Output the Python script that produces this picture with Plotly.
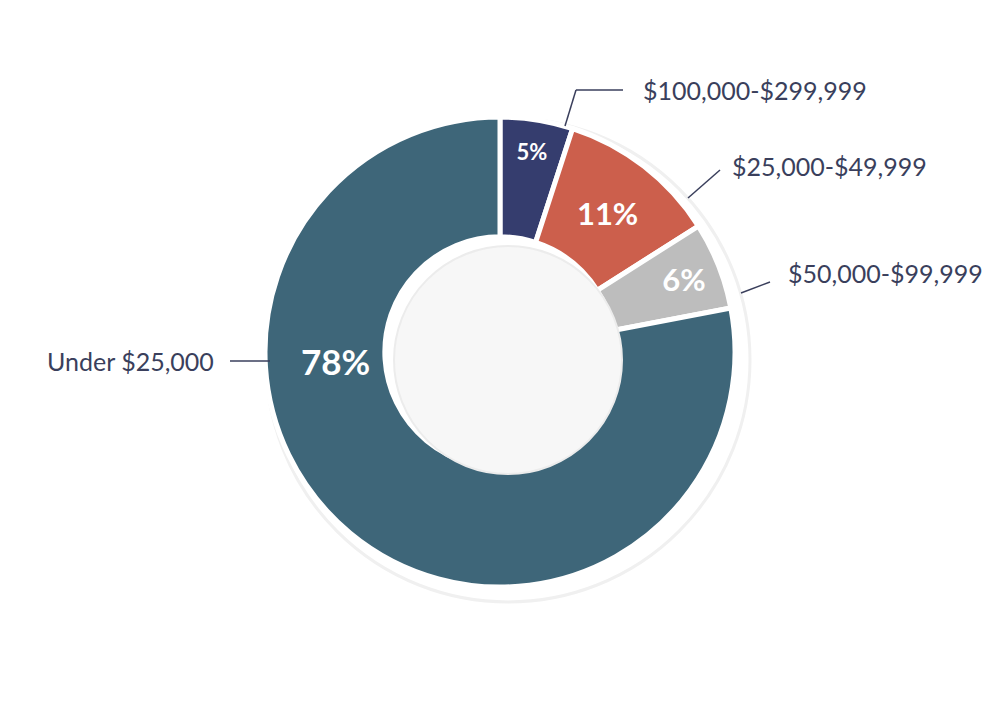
import plotly.graph_objects as go

categories = ["$100,000-$299,999", "$25,000-$49,999", "$50,000-$99,999", "Under $25,000"]
values = [5, 11, 6, 78]
colors = ["#353d6e", "#cc5f4c", "#bdbdbd", "#3e6679"]
text_sizes = [22, 31, 31, 35]

W, H = 1000, 706
def px(x): return x / W
def py(y): return 1 - y / H

texts = [f"{v}%" for v in values]
inside_texts = texts[:-1] + [""]

fig = go.Figure()
fig.add_trace(go.Pie(
    labels=categories, values=values, sort=False, direction="clockwise", rotation=0,
    hole=0.49, marker=dict(colors=colors, line=dict(color="white", width=5)),
    text=inside_texts, texttemplate="%{text}", textposition="inside", insidetextorientation="horizontal",
    textfont=dict(family="Lato", size=text_sizes, color="white", weight="bold"),
    domain=dict(x=[px(257), px(727)], y=[py(579), py(109)]),
    showlegend=False, hoverinfo="label+percent",
))

shapes = [
    dict(type="circle", xref="paper", yref="paper", x0=px(258), x1=px(742), y0=py(594), y1=py(110),
         line=dict(color="#f0f0f0", width=3), fillcolor="white", layer="below"),
    dict(type="circle", xref="paper", yref="paper", x0=px(386), x1=px(614), y0=py(466), y1=py(238),
         line=dict(color="#ececec", width=2), fillcolor="#f7f7f7", layer="above"),
]
lines = [
    [(557, 118), (568, 82), (615, 82)],
    [(680, 190), (712, 162)],
    [(733, 285), (762, 274)],
    [(262, 353), (222, 353)],
]
for pts in lines:
    for (x0, y0), (x1, y1) in zip(pts[:-1], pts[1:]):
        shapes.append(dict(type="line", xref="paper", yref="paper", x0=px(x0), y0=py(y0),
                           x1=px(x1), y1=py(y1), line=dict(color="#3a3f5c", width=1.5)))

label_pos = [(633, 82, "left"), (722, 158, "left"), (778, 265, "left"), (208, 353, "right")]
annotations = []
for name, (x, y, anc) in zip(categories, label_pos):
    annotations.append(dict(text=name, x=px(x), y=py(y), xref="paper", yref="paper",
                            xanchor=anc, yanchor="middle", showarrow=False,
                            font=dict(family="Lato", size=25, color="#3a3f5c")))
annotations.append(dict(text=texts[-1], x=px(327), y=py(353), xref="paper", yref="paper",
                        xanchor="center", yanchor="middle", showarrow=False,
                        font=dict(family="Lato", size=35, color="white", weight="bold")))

fig.update_layout(width=W, height=H, margin=dict(l=0, r=0, t=0, b=0),
                  paper_bgcolor="white", plot_bgcolor="white",
                  shapes=shapes, annotations=annotations)
fig.write_html("out.html")
